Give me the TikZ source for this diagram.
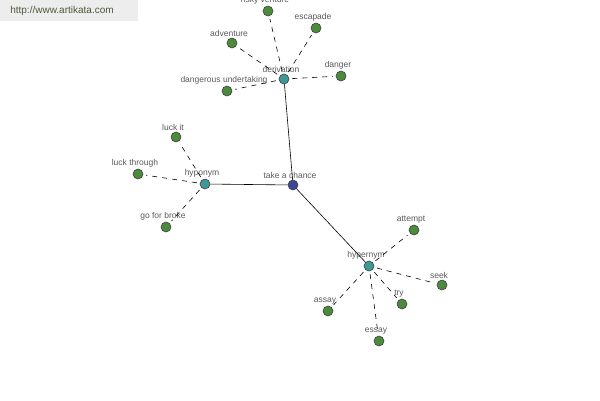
\documentclass[tikz,border=0pt]{standalone}
\usepackage{fontspec}
\setmainfont{Liberation Sans}
\definecolor{leafgreen}{HTML}{4C8A3C}
\definecolor{hubteal}{HTML}{3E9A98}
\definecolor{rootblue}{HTML}{3A4794}
\definecolor{urlgreen}{HTML}{4A5A3A}
\tikzset{
  dot/.style={circle, draw=black!75, fill=#1, minimum size=10pt, inner sep=0pt},
  word/.style={font=\fontsize{8.5}{10}\selectfont, text=black!65, inner sep=1pt, xshift=-3pt},
  rel/.style={dash pattern=on 5pt off 5pt, shorten <=3pt, shorten >=3pt}
}
\begin{document}
\begin{tikzpicture}[x=1pt, y=-1pt, line width=0.6pt]
\useasboundingbox (0,0) rectangle (600,400);
\fill [black!7] (0,0) rectangle (138,21);
\node (url) at (62,11) [font=\fontsize{10}{11}\selectfont, text=urlgreen] {http://www.artikata.com};

\node (root) at (293,185) [dot=rootblue, label={[word]above:take a chance}] {};
\node (der) at (284,79) [dot=hubteal, label={[word]above:derivation}] {};
\node (hypo) at (205,184) [dot=hubteal, label={[word]above:hyponym}] {};
\node (hyper) at (369,266) [dot=hubteal, label={[word]above:hypernym}] {};
\draw (root) -- (der);
\draw (root) -- (hypo);
\draw (root) -- (hyper);

\foreach \n/\x/\y/\t/\h in {rv/268/11/risky venture/der, esc/316/28/escapade/der,
  adv/232/43/adventure/der, dng/341/76/danger/der, du/227/91/dangerous undertaking/der,
  li/176/137/luck it/hypo, lt/138/174/luck through/hypo, gfb/166/227/go for broke/hypo,
  att/414/230/attempt/hyper, seek/442/285/seek/hyper, try/402/304/try/hyper,
  assay/328/311/assay/hyper, essay/379/341/essay/hyper}
{
\node (\n) at (\x,\y) [dot=leafgreen, label={[word]above:\t}] {};
\draw [rel] (\h) -- (\n);
}
\end{tikzpicture}
\end{document}
